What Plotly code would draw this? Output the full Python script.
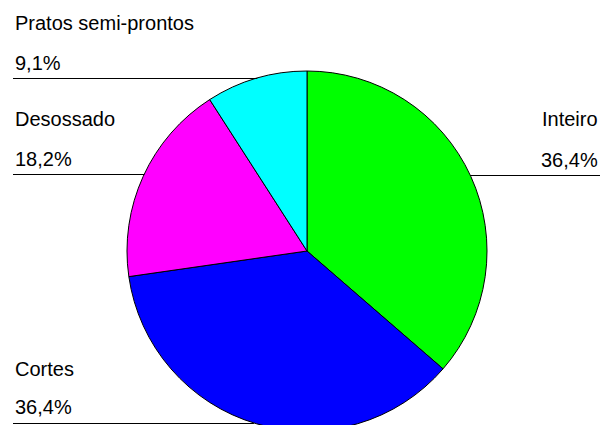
import math
import plotly.graph_objects as go

# Distribution by product type
categorias = ["Inteiro", "Cortes", "Desossado", "Pratos semi-prontos"]
percentuais = [36.4, 36.4, 18.2, 9.1]
cores = ["#00ff00", "#0000ff", "#ff00ff", "#00ffff"]

# Canvas is taller than the visible page so the pie runs off the bottom edge
W, H = 603, 502
CX, CY, R = 307, 251, 180
FONT = "Liberation Sans, Arial, sans-serif"

# label placement: side, name y, percent y, leader line y (pixels from top)
rotulos = {
    "Inteiro": ("right", 119, 160, 175),
    "Cortes": ("left", 369, 407, 423),
    "Desossado": ("left", 119, 159, 174),
    "Pratos semi-prontos": ("left", 23, 63, 78),
}

fig = go.Figure(
    go.Pie(
        labels=categorias,
        values=percentuais,
        sort=False,
        direction="clockwise",
        rotation=0,
        marker=dict(colors=cores, line=dict(color="black", width=1)),
        textinfo="none",
        hoverinfo="label+percent",
        showlegend=False,
        domain=dict(x=[(CX - R) / W, (CX + R) / W], y=[0, 1]),
    )
)

total = sum(percentuais)
annotations = []
shapes = []
for nome, valor in zip(categorias, percentuais):
    lado, y_nome, y_pct, y_linha = rotulos[nome]
    pct = f"{100 * valor / total:.1f}".replace(".", ",") + "%"
    if lado == "left":
        xt, anchor = 13 / W, "left"
    else:
        xt, anchor = 600 / W, "right"
    for texto, yy in ((nome, y_nome), (pct, y_pct)):
        annotations.append(dict(
            text=texto, x=xt, y=1 - yy / H, xref="paper", yref="paper",
            xanchor=anchor, yanchor="middle", showarrow=False,
            font=dict(family=FONT, size=20, color="black"),
        ))
    borda = math.sqrt(max(R * R - (y_linha - CY) ** 2, 0))
    if lado == "left":
        x0, x1 = 13, CX - borda
    else:
        x0, x1 = CX + borda, 600
    yl = y_linha + 0.5  # centre the 1px rule on a pixel row
    shapes.append(dict(
        type="line", xref="paper", yref="paper",
        x0=x0 / W, x1=x1 / W, y0=1 - yl / H, y1=1 - yl / H,
        line=dict(color="black", width=1),
    ))

fig.update_layout(
    width=W, height=H,
    margin=dict(l=0, r=0, t=0, b=0),
    paper_bgcolor="white", plot_bgcolor="white",
    annotations=annotations, shapes=shapes,
)

clip = (
    "var gd=document.getElementById('{plot_id}');"
    "var w=gd.parentElement; w.style.height='425px'; w.style.overflow='hidden';"
    "document.documentElement.style.overflow='hidden';"
    "document.body.style.overflow='hidden'; document.body.style.margin='0';"
)

fig.write_html("out.html", config={"displayModeBar": False}, post_script=clip)
